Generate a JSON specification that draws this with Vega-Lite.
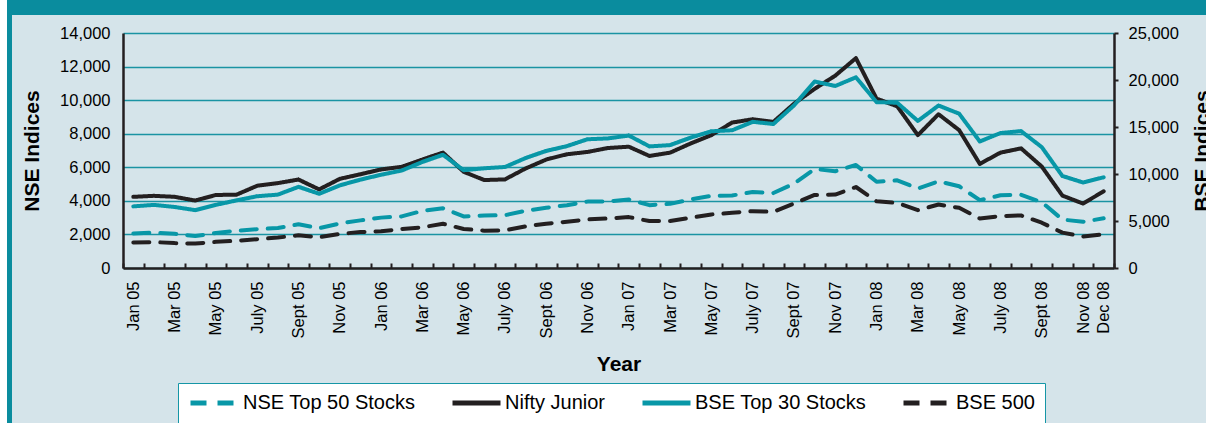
{
  "$schema": "https://vega.github.io/schema/vega-lite/v6.json",
  "background": "#d5e4ea",
  "padding": 0,
  "spacing": -9,
  "config": {"font": "Liberation Sans", "view": {"stroke": null}},
  "vconcat": [
    {
      "spacing": 0,
      "hconcat": [
        {"data": {"values": []}, "mark": "point", "encoding": {}, "width": 7, "height": 33, "view": {"fill": "#ffffff", "stroke": null}},
        {"data": {"values": []}, "mark": "point", "encoding": {}, "width": 5, "height": 33, "view": {"fill": "#0a8c9e", "stroke": null}},
        {"data": {"values": []}, "mark": "point", "encoding": {}, "width": 1194, "height": 15, "view": {"fill": "#0a8c9e", "stroke": null}}
      ]
    },
    {
      "spacing": 9,
      "hconcat": [
        {
          "spacing": 0,
          "hconcat": [
            {"data": {"values": []}, "mark": "point", "encoding": {}, "width": 7, "height": 399, "view": {"fill": "#ffffff", "stroke": null}},
            {"data": {"values": []}, "mark": "point", "encoding": {}, "width": 5, "height": 399, "view": {"fill": "#0a8c9e", "stroke": null}}
          ]
        },
        {
          "width": 991,
          "height": 235,
          "view": {"stroke": null},
          "data": {"values": [
            {"m": "Jan 05", "NSE Top 50 Stocks": 2058, "Nifty Junior": 4240, "BSE Top 30 Stocks": 6556, "BSE 500": 2720},
            {"m": "Feb 05", "NSE Top 50 Stocks": 2103, "Nifty Junior": 4300, "BSE Top 30 Stocks": 6714, "BSE 500": 2760},
            {"m": "Mar 05", "NSE Top 50 Stocks": 2036, "Nifty Junior": 4240, "BSE Top 30 Stocks": 6493, "BSE 500": 2650},
            {"m": "Apr 05", "NSE Top 50 Stocks": 1902, "Nifty Junior": 4017, "BSE Top 30 Stocks": 6154, "BSE 500": 2600},
            {"m": "May 05", "NSE Top 50 Stocks": 2087, "Nifty Junior": 4350, "BSE Top 30 Stocks": 6715, "BSE 500": 2780},
            {"m": "June 05", "NSE Top 50 Stocks": 2221, "Nifty Junior": 4370, "BSE Top 30 Stocks": 7194, "BSE 500": 2900},
            {"m": "July 05", "NSE Top 50 Stocks": 2312, "Nifty Junior": 4900, "BSE Top 30 Stocks": 7635, "BSE 500": 3070},
            {"m": "Aug 05", "NSE Top 50 Stocks": 2385, "Nifty Junior": 5056, "BSE Top 30 Stocks": 7806, "BSE 500": 3240},
            {"m": "Sept 05", "NSE Top 50 Stocks": 2602, "Nifty Junior": 5271, "BSE Top 30 Stocks": 8634, "BSE 500": 3480},
            {"m": "Oct 05", "NSE Top 50 Stocks": 2370, "Nifty Junior": 4683, "BSE Top 30 Stocks": 7892, "BSE 500": 3270},
            {"m": "Nov 05", "NSE Top 50 Stocks": 2653, "Nifty Junior": 5310, "BSE Top 30 Stocks": 8789, "BSE 500": 3630},
            {"m": "Dec 05", "NSE Top 50 Stocks": 2837, "Nifty Junior": 5585, "BSE Top 30 Stocks": 9398, "BSE 500": 3820},
            {"m": "Jan 06", "NSE Top 50 Stocks": 3001, "Nifty Junior": 5870, "BSE Top 30 Stocks": 9920, "BSE 500": 3904},
            {"m": "Feb 06", "NSE Top 50 Stocks": 3075, "Nifty Junior": 6027, "BSE Top 30 Stocks": 10370, "BSE 500": 4150},
            {"m": "Mar 06", "NSE Top 50 Stocks": 3403, "Nifty Junior": 6461, "BSE Top 30 Stocks": 11280, "BSE 500": 4325},
            {"m": "Apr 06", "NSE Top 50 Stocks": 3558, "Nifty Junior": 6874, "BSE Top 30 Stocks": 12043, "BSE 500": 4712},
            {"m": "May 06", "NSE Top 50 Stocks": 3071, "Nifty Junior": 5732, "BSE Top 30 Stocks": 10399, "BSE 500": 4150},
            {"m": "June 06", "NSE Top 50 Stocks": 3128, "Nifty Junior": 5239, "BSE Top 30 Stocks": 10609, "BSE 500": 3973},
            {"m": "July 06", "NSE Top 50 Stocks": 3143, "Nifty Junior": 5279, "BSE Top 30 Stocks": 10744, "BSE 500": 4009},
            {"m": "Aug 06", "NSE Top 50 Stocks": 3414, "Nifty Junior": 5929, "BSE Top 30 Stocks": 11699, "BSE 500": 4431},
            {"m": "Sept 06", "NSE Top 50 Stocks": 3588, "Nifty Junior": 6461, "BSE Top 30 Stocks": 12454, "BSE 500": 4712},
            {"m": "Oct 06", "NSE Top 50 Stocks": 3744, "Nifty Junior": 6776, "BSE Top 30 Stocks": 12962, "BSE 500": 4923},
            {"m": "Nov 06", "NSE Top 50 Stocks": 3955, "Nifty Junior": 6914, "BSE Top 30 Stocks": 13696, "BSE 500": 5169},
            {"m": "Dec 06", "NSE Top 50 Stocks": 3966, "Nifty Junior": 7150, "BSE Top 30 Stocks": 13787, "BSE 500": 5275},
            {"m": "Jan 07", "NSE Top 50 Stocks": 4083, "Nifty Junior": 7226, "BSE Top 30 Stocks": 14091, "BSE 500": 5415},
            {"m": "Feb 07", "NSE Top 50 Stocks": 3745, "Nifty Junior": 6675, "BSE Top 30 Stocks": 12938, "BSE 500": 4993},
            {"m": "Mar 07", "NSE Top 50 Stocks": 3822, "Nifty Junior": 6872, "BSE Top 30 Stocks": 13072, "BSE 500": 4993},
            {"m": "Apr 07", "NSE Top 50 Stocks": 4087, "Nifty Junior": 7423, "BSE Top 30 Stocks": 13872, "BSE 500": 5344},
            {"m": "May 07", "NSE Top 50 Stocks": 4296, "Nifty Junior": 7915, "BSE Top 30 Stocks": 14544, "BSE 500": 5696},
            {"m": "June 07", "NSE Top 50 Stocks": 4318, "Nifty Junior": 8664, "BSE Top 30 Stocks": 14651, "BSE 500": 5872},
            {"m": "July 07", "NSE Top 50 Stocks": 4529, "Nifty Junior": 8861, "BSE Top 30 Stocks": 15551, "BSE 500": 6048},
            {"m": "Aug 07", "NSE Top 50 Stocks": 4464, "Nifty Junior": 8703, "BSE Top 30 Stocks": 15319, "BSE 500": 5977},
            {"m": "Sept 07", "NSE Top 50 Stocks": 5021, "Nifty Junior": 9786, "BSE Top 30 Stocks": 17291, "BSE 500": 6857},
            {"m": "Oct 07", "NSE Top 50 Stocks": 5901, "Nifty Junior": 10672, "BSE Top 30 Stocks": 19838, "BSE 500": 7771},
            {"m": "Nov 07", "NSE Top 50 Stocks": 5763, "Nifty Junior": 11460, "BSE Top 30 Stocks": 19363, "BSE 500": 7807},
            {"m": "Dec 07", "NSE Top 50 Stocks": 6139, "Nifty Junior": 12503, "BSE Top 30 Stocks": 20287, "BSE 500": 8616},
            {"m": "Jan 08", "NSE Top 50 Stocks": 5137, "Nifty Junior": 10085, "BSE Top 30 Stocks": 17649, "BSE 500": 7103},
            {"m": "Feb 08", "NSE Top 50 Stocks": 5224, "Nifty Junior": 9632, "BSE Top 30 Stocks": 17579, "BSE 500": 6928},
            {"m": "Mar 08", "NSE Top 50 Stocks": 4735, "Nifty Junior": 7915, "BSE Top 30 Stocks": 15644, "BSE 500": 6153},
            {"m": "Apr 08", "NSE Top 50 Stocks": 5166, "Nifty Junior": 9160, "BSE Top 30 Stocks": 17287, "BSE 500": 6752},
            {"m": "May 08", "NSE Top 50 Stocks": 4870, "Nifty Junior": 8214, "BSE Top 30 Stocks": 16416, "BSE 500": 6400},
            {"m": "June 08", "NSE Top 50 Stocks": 4041, "Nifty Junior": 6203, "BSE Top 30 Stocks": 13462, "BSE 500": 5275},
            {"m": "July 08", "NSE Top 50 Stocks": 4333, "Nifty Junior": 6872, "BSE Top 30 Stocks": 14356, "BSE 500": 5521},
            {"m": "Aug 08", "NSE Top 50 Stocks": 4360, "Nifty Junior": 7128, "BSE Top 30 Stocks": 14565, "BSE 500": 5591},
            {"m": "Sept 08", "NSE Top 50 Stocks": 3921, "Nifty Junior": 6045, "BSE Top 30 Stocks": 12860, "BSE 500": 4818},
            {"m": "Oct 08", "NSE Top 50 Stocks": 2885, "Nifty Junior": 4313, "BSE Top 30 Stocks": 9788, "BSE 500": 3762},
            {"m": "Nov 08", "NSE Top 50 Stocks": 2755, "Nifty Junior": 3840, "BSE Top 30 Stocks": 9093, "BSE 500": 3341},
            {"m": "Dec 08", "NSE Top 50 Stocks": 2959, "Nifty Junior": 4569, "BSE Top 30 Stocks": 9647, "BSE 500": 3587}
          ]},
          "encoding": {
            "x": {
              "field": "m", "type": "ordinal", "bandPosition": 0.5,
              "scale": {"type": "band", "paddingInner": 0, "paddingOuter": 0,
                "domain": ["Jan 05","Feb 05","Mar 05","Apr 05","May 05","June 05","July 05","Aug 05","Sept 05","Oct 05","Nov 05","Dec 05","Jan 06","Feb 06","Mar 06","Apr 06","May 06","June 06","July 06","Aug 06","Sept 06","Oct 06","Nov 06","Dec 06","Jan 07","Feb 07","Mar 07","Apr 07","May 07","June 07","July 07","Aug 07","Sept 07","Oct 07","Nov 07","Dec 07","Jan 08","Feb 08","Mar 08","Apr 08","May 08","June 08","July 08","Aug 08","Sept 08","Oct 08","Nov 08","Dec 08"]},
              "axis": {
                "title": "Year", "titleFontSize": 21, "titleFontWeight": "bold", "titleColor": "#000000", "titlePadding": 16,
                "labelAngle": 270, "labelFontSize": 16.5, "labelColor": "#000000", "labelPadding": 18, "labelOverlap": false,
                "labelExpr": "indexof(['Jan 05','Mar 05','May 05','July 05','Sept 05','Nov 05','Jan 06','Mar 06','May 06','July 06','Sept 06','Nov 06','Jan 07','Mar 07','May 07','July 07','Sept 07','Nov 07','Jan 08','Mar 08','May 08','July 08','Sept 08','Nov 08','Dec 08'], datum.value) >= 0 ? datum.value : ''",
                "tickBand": "extent", "ticks": true, "tickSize": -5, "tickWidth": 2, "tickColor": "#231f20",
                "domainColor": "#231f20", "domainWidth": 2.5, "grid": false
              }
            }
          },
          "layer": [
            {
              "transform": [{"fold": ["NSE Top 50 Stocks", "Nifty Junior"], "as": ["series", "value"]}],
              "mark": {"type": "line", "strokeWidth": 4, "strokeCap": "round", "strokeJoin": "round"},
              "encoding": {
                "y": {
                  "field": "value", "type": "quantitative",
                  "scale": {"domain": [0, 14000], "nice": false},
                  "axis": {
                    "title": "NSE Indices", "orient": "left", "values": [0, 2000, 4000, 6000, 8000, 10000, 12000, 14000], "format": ",d",
                    "grid": true, "gridColor": "#1a93a3", "gridWidth": 1.5,
                    "ticks": false, "tickSize": 0, "labelPadding": 13, "labelFontSize": 16.5, "labelColor": "#000000",
                    "domainColor": "#231f20", "domainWidth": 2.5,
                    "titleFontSize": 21, "titleFontWeight": "bold", "titleColor": "#000000", "titlePadding": 17
                  }
                },
                "color": {
                  "field": "series", "type": "nominal",
                  "scale": {"domain": ["NSE Top 50 Stocks", "Nifty Junior", "BSE Top 30 Stocks", "BSE 500"], "range": ["#0897a7", "#231f20", "#0897a7", "#231f20"]},
                  "legend": {"title": null, "orient": "none", "legendX": 178, "legendY": 383, "direction": "horizontal", "fillColor": "#ffffff", "strokeColor": "#1596a6", "padding": 10, "columnPadding": 34, "labelFontSize": 20, "labelLimit": 400, "labelColor": "#000000", "labelOffset": 2, "symbolType": "stroke", "symbolSize": 2304, "symbolStrokeWidth": 5, "clipHeight": 20}
                },
                "strokeDash": {
                  "field": "series", "type": "nominal",
                  "scale": {"domain": ["NSE Top 50 Stocks", "Nifty Junior", "BSE Top 30 Stocks", "BSE 500"], "range": [[16, 11], [1, 0], [1, 0], [16, 11]]},
                  "legend": {"title": null, "orient": "none", "legendX": 178, "legendY": 383, "direction": "horizontal", "fillColor": "#ffffff", "strokeColor": "#1596a6", "padding": 10, "columnPadding": 34, "labelFontSize": 20, "labelLimit": 400, "labelColor": "#000000", "labelOffset": 2, "symbolType": "stroke", "symbolSize": 2304, "symbolStrokeWidth": 5, "clipHeight": 20}
                }
              }
            },
            {
              "transform": [{"fold": ["BSE Top 30 Stocks", "BSE 500"], "as": ["series", "value"]}],
              "mark": {"type": "line", "strokeWidth": 4, "strokeCap": "round", "strokeJoin": "round"},
              "encoding": {
                "y": {
                  "field": "value", "type": "quantitative",
                  "scale": {"domain": [0, 25000], "nice": false},
                  "axis": {
                    "title": "BSE Indices", "orient": "right", "values": [0, 5000, 10000, 15000, 20000, 25000], "format": ",d",
                    "grid": false, "ticks": true, "tickSize": 4, "tickWidth": 2, "tickColor": "#231f20",
                    "labelPadding": 10, "labelFontSize": 16.5, "labelColor": "#000000",
                    "domainColor": "#231f20", "domainWidth": 2.5,
                    "titleFontSize": 21, "titleFontWeight": "bold", "titleColor": "#000000", "titlePadding": 13,
                    "titleAngle": 270, "titleBaseline": "top"
                  }
                },
                "color": {
                  "field": "series", "type": "nominal",
                  "scale": {"domain": ["NSE Top 50 Stocks", "Nifty Junior", "BSE Top 30 Stocks", "BSE 500"], "range": ["#0897a7", "#231f20", "#0897a7", "#231f20"]},
                  "legend": {"title": null, "orient": "none", "legendX": 178, "legendY": 383, "direction": "horizontal", "fillColor": "#ffffff", "strokeColor": "#1596a6", "padding": 10, "columnPadding": 34, "labelFontSize": 20, "labelLimit": 400, "labelColor": "#000000", "labelOffset": 2, "symbolType": "stroke", "symbolSize": 2304, "symbolStrokeWidth": 5, "clipHeight": 20}
                },
                "strokeDash": {
                  "field": "series", "type": "nominal",
                  "scale": {"domain": ["NSE Top 50 Stocks", "Nifty Junior", "BSE Top 30 Stocks", "BSE 500"], "range": [[16, 11], [1, 0], [1, 0], [16, 11]]},
                  "legend": {"title": null, "orient": "none", "legendX": 178, "legendY": 383, "direction": "horizontal", "fillColor": "#ffffff", "strokeColor": "#1596a6", "padding": 10, "columnPadding": 34, "labelFontSize": 20, "labelLimit": 400, "labelColor": "#000000", "labelOffset": 2, "symbolType": "stroke", "symbolSize": 2304, "symbolStrokeWidth": 5, "clipHeight": 20}
                }
              }
            }
          ],
          "resolve": {"scale": {"y": "independent"}}
        }
      ]
    }
  ]
}
